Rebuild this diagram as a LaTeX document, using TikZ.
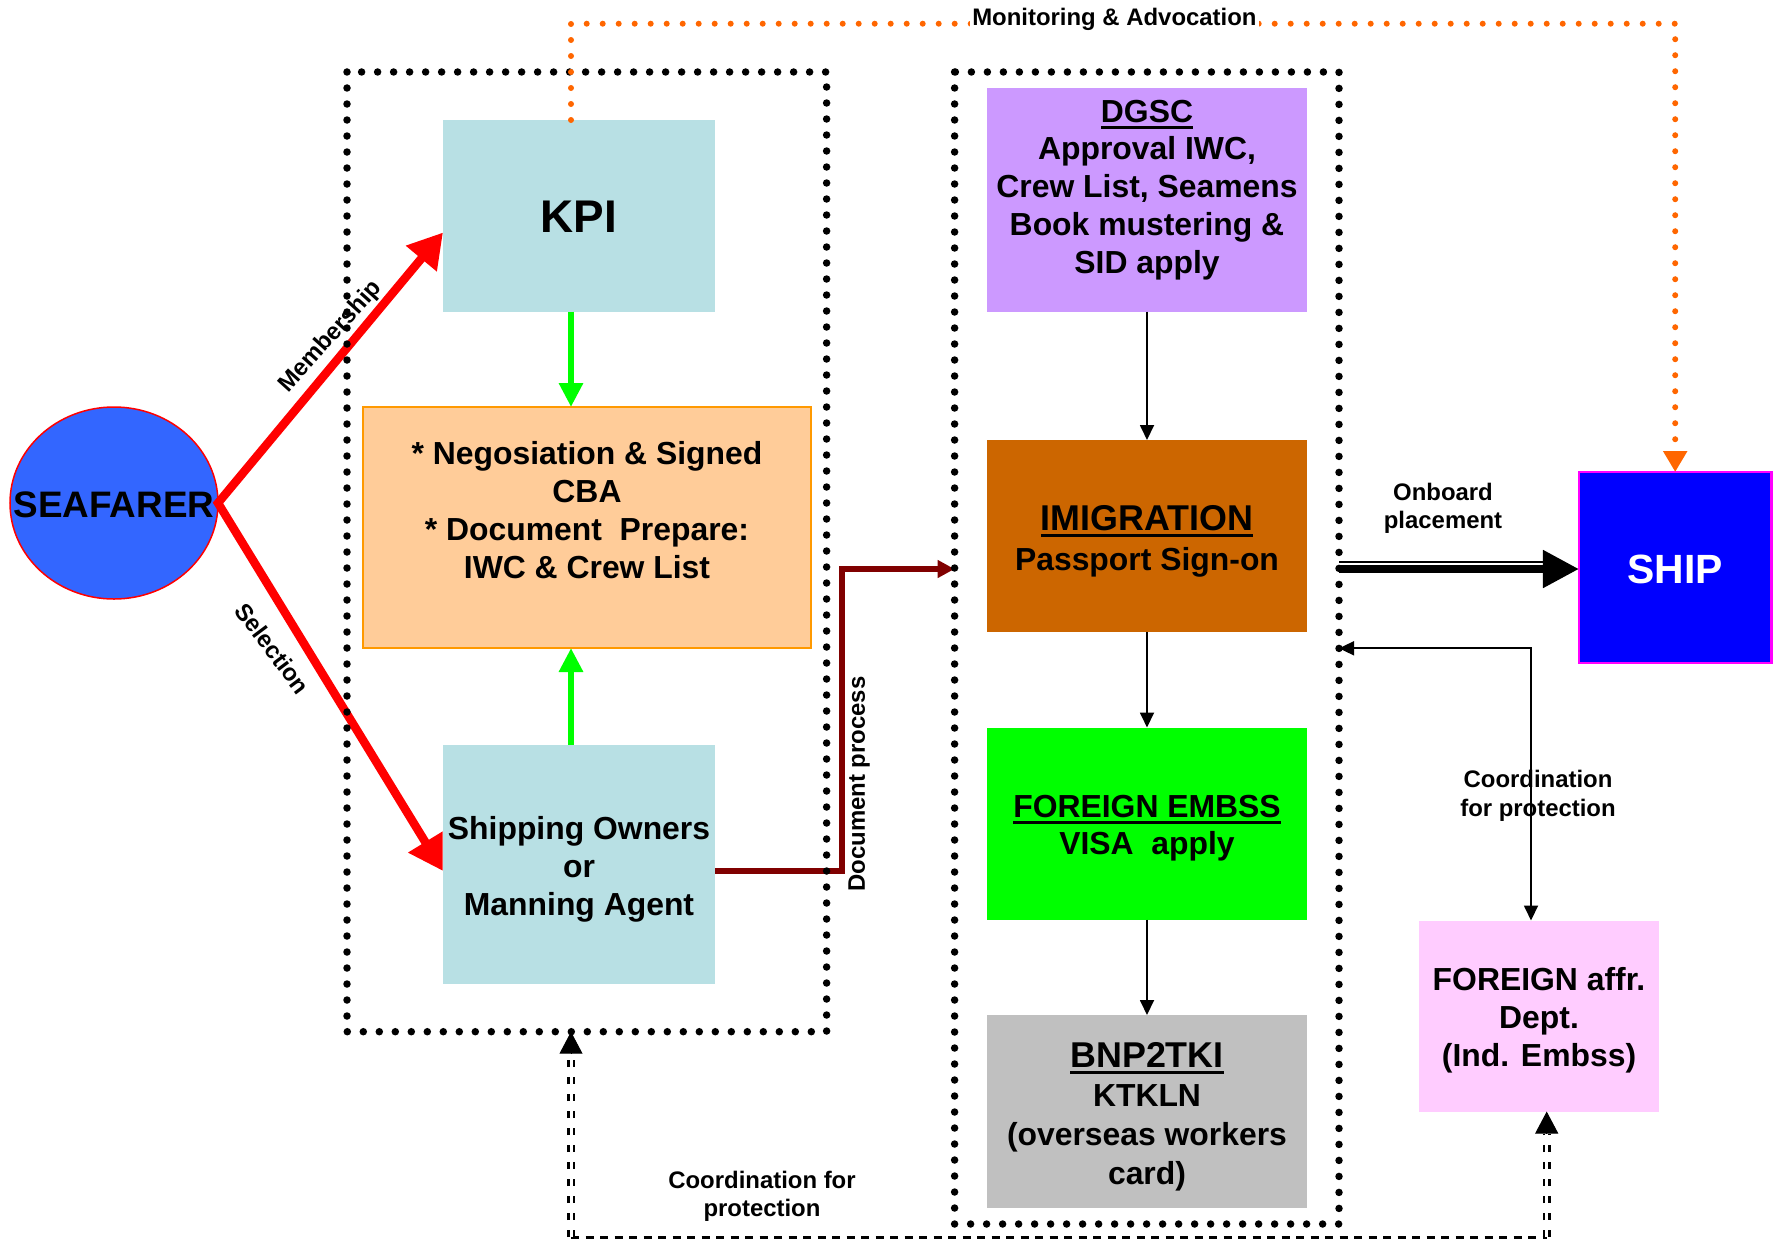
\documentclass[tikz,border=0pt]{standalone}
\usepackage{fontspec}
\setmainfont{Liberation Sans}
\usetikzlibrary{arrows.meta,calc,shapes.geometric}
\definecolor{kpiblue}{HTML}{B8E0E4}
\definecolor{cbafill}{HTML}{FFCC99}
\definecolor{cbaline}{HTML}{FF9900}
\definecolor{dgscfill}{HTML}{CC99FF}
\definecolor{imigfill}{HTML}{CC6600}
\definecolor{embfill}{HTML}{00FF00}
\definecolor{bnpfill}{HTML}{C0C0C0}
\definecolor{affrfill}{HTML}{FFCCFF}
\definecolor{shipfill}{HTML}{0000FF}
\definecolor{shipline}{HTML}{FF00FF}
\definecolor{seablue}{HTML}{3366FF}
\definecolor{redarrow}{HTML}{FF0000}
\definecolor{greenarrow}{HTML}{00FF00}
\definecolor{docred}{HTML}{800000}
\definecolor{monorange}{HTML}{FF6600}
\newcommand\myul[1]{\setbox0\hbox{#1}\rlap{\vrule width\wd0 height -3.5bp depth 6.5bp}\box0}
\begin{document}
\begin{tikzpicture}[x=1bp,y=-1bp,
  box/.style={rectangle, inner sep=0pt, outer sep=0pt},
  btext/.style={font=\fontsize{32}{38}\selectfont\bfseries, align=center, inner sep=0pt},
  lbl/.style={font=\fontsize{24}{28.5}\selectfont\bfseries, align=center, inner sep=0pt},
  dotbox/.style={rectangle, inner sep=0pt, outer sep=0pt},
  dotline/.style={draw=black, line width=7.5bp, dash pattern=on 0bp off 16bp, line cap=round},
  redarr/.style={draw=redarrow, line width=8.5bp, line join=miter, {Triangle[length=34bp,width=38bp]}-{Triangle[length=34bp,width=38bp]}},
  greenarr/.style={draw=greenarrow, line width=6bp, -{Triangle[length=24bp,width=23bp]}},
  thinarr/.style={draw=black, line width=1.8bp, -{Triangle[length=15bp,width=14bp]}},
  dbl/.style={draw=black, line width=2.5bp, double=white, double distance=3bp, dash pattern=on 7bp off 10bp},
  tipblack/.style={draw=black, line width=1bp, -{Triangle[length=22bp,width=23bp]}},
]
\useasboundingbox (0,0) rectangle (1773,1240);

% helper coordinates
\coordinate (gx) at (571,0);
\coordinate (toprow) at (0,23.7);
\coordinate (midrow) at (0,569);
\coordinate (crow) at (0,648.3);
\coordinate (cx) at (1531,0);
\coordinate (dpx) at (842,0);
\coordinate (fx) at (1546.7,0);
\coordinate (bl) at (571,1237);
\coordinate (br) at (1546.7,1237);

% boxes
\node[ellipse, draw=redarrow, line width=1.5bp, fill=seablue, minimum width=208bp, minimum height=192bp, inner sep=0pt, outer sep=0pt] (sea) at (114,503) {};
\node[box, fill=kpiblue, minimum width=272bp, minimum height=191.6bp] (kpi) at (579,215.8) {};
\node[box, fill=cbafill, draw=cbaline, line width=2bp, minimum width=448bp, minimum height=241bp] (cba) at (587,527.5) {};
\node[box, fill=kpiblue, minimum width=272bp, minimum height=239.3bp] (shipping) at (579,864.2) {};
\node[box, fill=dgscfill, minimum width=320bp, minimum height=223.6bp] (dgsc) at (1147,199.8) {};
\node[box, fill=imigfill, minimum width=320bp, minimum height=192bp] (imig) at (1147,536) {};
\node[box, fill=embfill, minimum width=320bp, minimum height=192.2bp] (femb) at (1147,823.6) {};
\node[box, fill=bnpfill, minimum width=320bp, minimum height=193bp] (bnp) at (1147,1111.5) {};
\node[box, fill=affrfill, minimum width=239.8bp, minimum height=191bp] (faffr) at (1538.6,1016) {};
\node[box, fill=shipfill, draw=shipline, line width=2.5bp, minimum width=192.5bp, minimum height=191bp] (ship) at (1675.2,567.5) {};

% dotted group frames (geometry; drawn later on top)
\node[dotbox, minimum width=479.6bp, minimum height=959.7bp] (lbox) at (586.8,551.85) {};
\node[dotbox, minimum width=384.4bp, minimum height=1152bp] (rbox) at (1146.8,648) {};

% texts
\node[btext, font=\fontsize{46}{50}\selectfont\bfseries] (kpi-t) at (579,217) {KPI};
\node[btext] (cba-t) at (587,510) {* Negosiation \& Signed\\CBA\\* Document\ \ Prepare:\\IWC \& Crew List};
\node[btext] (shipping-t) at (579,869) {Shipping Owners\\or\\Manning Agent};
\node[btext] (dgsc-t) at (1147,190) {\myul{DGSC}\\Approval IWC,\\Crew List, Seamens\\Book mustering \&\\SID apply};
\node[btext, font=\fontsize{32}{40}\selectfont\bfseries] (imig-t) at (1147,541.4) {{\fontsize{36}{40}\selectfont\myul{IMIGRATION}}\\Passport Sign-on};
\node[btext, font=\fontsize{32}{37}\selectfont\bfseries] (femb-t) at (1147,827.8) {\myul{FOREIGN EMBSS}\\VISA\ \ apply};
\node[btext, font=\fontsize{32}{39}\selectfont\bfseries] (bnp-t) at (1147,1117) {{\fontsize{36}{39}\selectfont\myul{BNP2TKI}}\\KTKLN\\(overseas workers\\card)};
\node[btext] (faffr-t) at (1539,1020) {FOREIGN affr.\\Dept.\\(Ind. Embss)};
\node[btext, font=\fontsize{41}{45}\selectfont\bfseries, text=white] (ship-t) at (1675,569) {SHIP};
\node[btext, font=\fontsize{37}{40}\selectfont\bfseries] (sea-t) at (114,505) {SEAFARER};

\node[lbl] (onb) at (1443,508.3) {Onboard\\placement};
\node[lbl] (coord1) at (762,1196) {Coordination for\\protection};
\node[lbl] (coord2) at (1538,796) {Coordination\\for protection};
\node[lbl, rotate=48] (memb) at (331,337) {Membership};
\node[lbl, rotate=-53] (sel) at (272.5,648.5) {Selection};
\node[lbl, rotate=90] (docp) at (859,784) {Document process};

% connectors
\draw[redarr] ($(kpi.west)+(0,16.7)$) -- (sea.east) -- ($(shipping.west)+(0,6.8)$);
\draw[greenarr] (gx |- kpi.south) -- (gx |- cba.north);
\draw[greenarr] (gx |- shipping.north) -- (gx |- cba.south);
\draw[docred, line width=5.5bp, -{Triangle[length=17bp,width=17bp]}] ($(shipping.east)+(0,6.8)$) -| (dpx |- midrow) -- (rbox.west |- midrow);
\draw[thinarr] (dgsc.south) -- (imig.north);
\draw[thinarr] (imig.south) -- (femb.north);
\draw[thinarr] (femb.south) -- (bnp.north);
\draw[draw=black, line width=1.8bp, {Triangle[length=15bp,width=14bp]}-{Triangle[length=15bp,width=14bp]}] (rbox.east |- crow) -| (cx |- faffr.north);
\draw[line width=8bp, -{Triangle[length=36bp,width=36bp]}] (rbox.east |- midrow) -- (ship.west |- midrow);
\draw[line width=2bp] ($(rbox.east |- midrow)+(0,-7)$) -- ($(ship.west |- midrow)+(-36,-7)$);

% bottom coordination lines
\draw[black, line width=3bp, dash pattern=on 8bp off 6.5bp] (bl) -- (br);
\draw[dbl] (bl) -- ($(gx |- lbox.south)+(0,22)$);
\draw[tipblack] ($(gx |- lbox.south)+(0,22)$) -- (gx |- lbox.south);
\draw[dbl] (br) -- ($(fx |- faffr.south)+(0,22)$);
\draw[tipblack] ($(fx |- faffr.south)+(0,22)$) -- (fx |- faffr.south);

% dotted frames
\draw[dotline] (lbox.north west) rectangle (lbox.south east);
\draw[dotline] (rbox.north west) rectangle (rbox.south east);

% monitoring line
\draw[monorange, line width=6bp, dash pattern=on 0bp off 16bp, line cap=round, -{Triangle[length=21bp,width=23bp]}] (gx |- kpi.north) -- (gx |- toprow) -| (ship.north);
\node[lbl, fill=white, inner xsep=2bp, inner ysep=1bp] (mon) at (1114.4,19.5) {Monitoring \& Advocation};
\end{tikzpicture}
\end{document}
